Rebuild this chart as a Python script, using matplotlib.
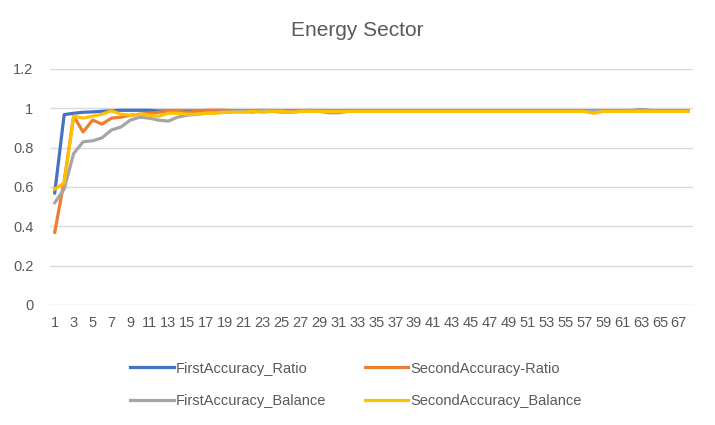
import numpy as np
import matplotlib
matplotlib.use("Agg")
import matplotlib.pyplot as plt

plt.rcParams['font.family'] = ['Liberation Sans', 'DejaVu Sans']

title = "Energy Sector"
series_names = ["FirstAccuracy_Ratio", "SecondAccuracy-Ratio",
                "FirstAccuracy_Balance", "SecondAccuracy_Balance"]
colors = ["#4472C4", "#ED7D31", "#A5A5A5", "#FFC000"]

first_ratio = [0.57, 0.968, 0.975, 0.98, 0.982, 0.985, 0.988, 0.99, 0.99, 0.99,
               0.99, 0.987, 0.987, 0.987, 0.987, 0.987, 0.987, 0.987, 0.987, 0.987,
               0.987, 0.987, 0.987, 0.987, 0.987, 0.987, 0.987, 0.987, 0.987, 0.987,
               0.987, 0.987, 0.987, 0.987, 0.987, 0.987, 0.987, 0.987, 0.987, 0.987,
               0.987, 0.987, 0.987, 0.987, 0.987, 0.987, 0.987, 0.987, 0.987, 0.987,
               0.987, 0.987, 0.987, 0.987, 0.987, 0.987, 0.987, 0.987, 0.987, 0.987,
               0.987, 0.987, 0.993, 0.987, 0.987, 0.987, 0.987, 0.987]
second_ratio = [0.37, 0.63, 0.96, 0.88, 0.94, 0.92, 0.95, 0.955, 0.965, 0.97,
                0.975, 0.98, 0.985, 0.985, 0.98, 0.985, 0.99, 0.99, 0.99, 0.985,
                0.985, 0.985, 0.985, 0.985, 0.985, 0.985, 0.985, 0.985, 0.985, 0.985,
                0.985, 0.985, 0.985, 0.985, 0.985, 0.985, 0.985, 0.985, 0.985, 0.985,
                0.985, 0.985, 0.985, 0.985, 0.985, 0.985, 0.985, 0.985, 0.985, 0.985,
                0.985, 0.985, 0.985, 0.985, 0.985, 0.985, 0.985, 0.985, 0.985, 0.985,
                0.985, 0.985, 0.985, 0.985, 0.985, 0.985, 0.985, 0.985]
first_balance = [0.52, 0.59, 0.77, 0.83, 0.835, 0.85, 0.89, 0.905, 0.94, 0.955,
                 0.95, 0.94, 0.935, 0.955, 0.965, 0.97, 0.975, 0.98, 0.98, 0.985,
                 0.985, 0.98, 0.99, 0.985, 0.98, 0.98, 0.985, 0.99, 0.985, 0.977,
                 0.977, 0.985, 0.985, 0.985, 0.985, 0.985, 0.985, 0.985, 0.985, 0.985,
                 0.985, 0.985, 0.985, 0.985, 0.985, 0.985, 0.985, 0.985, 0.985, 0.985,
                 0.985, 0.985, 0.985, 0.985, 0.985, 0.985, 0.985, 0.985, 0.985, 0.985,
                 0.985, 0.99, 0.993, 0.99, 0.985, 0.985, 0.985, 0.985]
second_balance = [0.59, 0.62, 0.96, 0.95, 0.96, 0.97, 0.988, 0.97, 0.965, 0.97,
                  0.965, 0.96, 0.975, 0.975, 0.97, 0.97, 0.975, 0.975, 0.98, 0.98,
                  0.98, 0.985, 0.98, 0.985, 0.985, 0.98, 0.984, 0.984, 0.984, 0.984,
                  0.984, 0.984, 0.984, 0.984, 0.984, 0.984, 0.984, 0.984, 0.984, 0.984,
                  0.984, 0.984, 0.984, 0.984, 0.984, 0.984, 0.984, 0.984, 0.984, 0.984,
                  0.984, 0.984, 0.984, 0.984, 0.984, 0.984, 0.984, 0.975, 0.984, 0.984,
                  0.984, 0.984, 0.984, 0.984, 0.984, 0.984, 0.984, 0.984]
categories = list(range(1, len(first_ratio) + 1))

txt = "#595959"
fig = plt.figure(figsize=(7.15, 4.25), dpi=100)
ax = fig.add_axes([50 / 715, 120 / 425, 643 / 715, 236 / 425])

x = np.arange(len(categories))
lines = []
for vals, name, col in zip([first_ratio, second_ratio, first_balance, second_balance],
                           series_names, colors):
    ln, = ax.plot(x, vals, color=col, lw=2.3, label=name, solid_joinstyle='round')
    lines.append(ln)

ax.set_xlim(-0.5, len(categories) - 0.5)
ax.set_ylim(0, 1.2)
ax.set_yticks([0, 0.2, 0.4, 0.6, 0.8, 1.0, 1.2])
ax.set_yticklabels(["0", "0.2", "0.4", "0.6", "0.8", "1", "1.2"])
ax.set_xticks(x[::2])
ax.set_xticklabels([str(c) for c in categories[::2]])
ax.tick_params(length=0, colors=txt, labelsize=10.5)
ax.tick_params(axis='y', pad=12)
ax.tick_params(axis='x', pad=8)
ax.grid(axis='y', color="#D9D9D9", lw=1)
ax.set_axisbelow(True)
for s in ax.spines.values():
    s.set_visible(False)

fig.text(0.5, 0.928, title, ha='center', va='center', fontsize=15, color=txt)

# legend fills column-wise, so reorder to get the row layout of the original
order = [0, 2, 1, 3]
leg = fig.legend([lines[i] for i in order], [series_names[i] for i in order],
                 loc='center', bbox_to_anchor=(0.498, 0.095), ncol=2, frameon=False,
                 fontsize=10.5, handlelength=3.0, handletextpad=0.15,
                 columnspacing=2.6, labelspacing=1.25)
for t in leg.get_texts():
    t.set_color(txt)

fig.savefig("out.png", dpi=100)
